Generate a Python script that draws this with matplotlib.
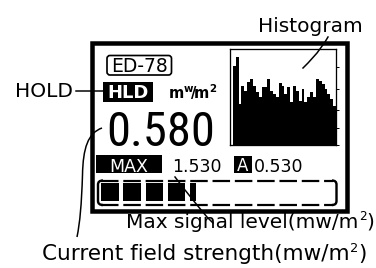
import numpy as np
import matplotlib
matplotlib.use("Agg")
import matplotlib.pyplot as plt
from matplotlib.patches import Rectangle, FancyBboxPatch, PathPatch
from matplotlib.path import Path
from matplotlib import font_manager as fm

plt.rcParams["lines.scale_dashes"] = False
plt.rcParams["font.family"] = ["DejaVu Sans"]

# ---------------- data ----------------
hist_levels = [79, 88, 41, 59, 54, 63, 66, 59, 53, 48, 58, 58, 66, 54, 51, 48,
               62, 59, 51, 58, 43, 59, 54, 44, 56, 43, 48, 53, 48, 66, 64, 61,
               56, 51, 46, 39]
hist_ticks = [0, 17, 35, 56, 78]
gauge_level = 4.35          # filled cells of the bar gauge
gauge_cells = 10.4          # cells across the gauge
reading = "0.580"
max_reading = "1.530"
avg_reading = "0.530"
model_label = "ED-78"
hold_label = "HLD"
max_label = "MAX"
avg_label = "A"
unit_label = r"$\mathregular{m^{w}\!/\!m^{2}}$"
ann_histogram = "Histogram"
ann_hold = "HOLD"
ann_max = ("Max signal level(mw/m", "2", ")")
ann_current = ("Current field strength(mw/m", "2", ")")

PX = 0.72  # points per pixel at dpi 100


def pick(names):
    for n in names:
        try:
            fm.findfont(fm.FontProperties(family=n), fallback_to_default=False)
            return n
        except Exception:
            pass
    return None


narrow = pick(["Liberation Sans Narrow", "DejaVu Sans Condensed",
               "Roboto Condensed", "Open Sans Condensed"])

fig = plt.figure(figsize=(3.76, 2.68), dpi=100)
fig.patch.set_facecolor("white")
ax = fig.add_axes([0, 0, 1, 1])
ax.set_xlim(0, 376)
ax.set_ylim(268, 0)
ax.axis("off")

# outer thick frame of the display
ax.add_patch(Rectangle((91.7, 42.8), 254.8, 168.2, fill=False, ec="black",
                       lw=4.5 * PX, joinstyle="miter"))

# histogram panel
axh = fig.add_axes([230 / 376, (268 - 145) / 268, 106 / 376, 96 / 268])
axh.patch.set_alpha(0)
n = len(hist_levels)
axh.bar(np.arange(n), hist_levels, width=1.0, align="edge", color="black", lw=0)
axh.set_xlim(-1, n)
axh.set_ylim(0, 96)
for s in axh.spines.values():
    s.set_linewidth(1.3 * PX)
axh.set_xticks([])
axh.yaxis.tick_right()
axh.set_yticks(hist_ticks)
axh.tick_params(axis="y", direction="out", length=3 * PX, width=1 * PX,
                labelright=False, labelleft=False)

# model label box
ax.add_patch(FancyBboxPatch((107, 55.5), 64.5, 19.5,
                            boxstyle="round,pad=0,rounding_size=3",
                            fill=False, ec="black", lw=1.7 * PX))
ax.text(139.5, 72, model_label, ha="center", va="baseline", fontsize=13.5,
        color="black")

# HLD box
ax.add_patch(Rectangle((103, 82), 50, 19.5, color="black", lw=0))
ax.text(128, 98.5, hold_label, ha="center", va="baseline", fontsize=13,
        fontweight="bold", color="white")

# unit
ax.text(168, 99, unit_label, ha="left", va="baseline", fontsize=10.5,
        fontweight="bold", color="black")

# big reading
if narrow:
    ax.text(106, 145.5, reading, ha="left", va="baseline", fontsize=35,
            family=narrow, color="black")
else:
    ax.text(106, 145.5, reading, ha="left", va="baseline", fontsize=29,
            color="black")

# MAX row
ax.add_patch(Rectangle((96, 155), 66, 17.5, color="black", lw=0))
ax.text(129, 171.5, max_label, ha="center", va="baseline", fontsize=12.5,
        color="white")
ax.text(172, 171.5, max_reading, ha="left", va="baseline", fontsize=12.5,
        color="black")
ax.add_patch(Rectangle((234, 155.5), 18, 17, color="black", lw=0))
ax.text(243, 171, avg_label, ha="center", va="baseline", fontsize=12,
        color="white")
ax.text(254, 171.5, avg_reading, ha="left", va="baseline", fontsize=12.5,
        color="black")

# bar gauge
g_left, g_right, g_top, g_bot = 101, 333, 180.5, 205
period = (g_right - g_left) / gauge_cells
cell_w = period * 0.785
n_fill = int(np.ceil(gauge_level))
for i in range(n_fill):
    frac = min(1.0, gauge_level - i)
    ax.add_patch(Rectangle((g_left + i * period, 183), cell_w * frac, 18,
                           color="black", lw=0))
for yy in (g_top, g_bot):
    ax.plot([g_left, g_right], [yy, yy], color="black", lw=2.2 * PX,
            dashes=(cell_w * PX, (period - cell_w) * PX), solid_capstyle="butt",
            dash_capstyle="butt")
lb = Path([(103, g_top), (98, g_top), (98, g_top + 4), (98, g_bot - 4),
           (98, g_bot), (103, g_bot)],
          [Path.MOVETO, Path.CURVE3, Path.CURVE3, Path.LINETO, Path.CURVE3,
           Path.CURVE3])
ax.add_patch(PathPatch(lb, fill=False, lw=2.4 * PX, ec="black"))
rb = Path([(332, g_top), (336.5, g_top), (336.5, g_top + 4), (336.5, g_bot - 4),
           (336.5, g_bot), (332, g_bot)],
          [Path.MOVETO, Path.CURVE3, Path.CURVE3, Path.LINETO, Path.CURVE3,
           Path.CURVE3])
ax.add_patch(PathPatch(rb, fill=False, lw=2.4 * PX, ec="black"))

# leader lines
lw_lead = 1.5 * PX
ax.plot([76, 103], [91, 91], color="black", lw=lw_lead)
ax.plot([328, 325, 317, 308, 303], [37, 42, 53, 63, 68], color="black",
        lw=lw_lead)
ax.plot([175, 185, 197, 207, 213], [177, 190, 205, 217, 223], color="black",
        lw=lw_lead)
cur = Path([(102, 128), (88, 133), (83, 148), (82.5, 175),
            (81.5, 205), (80, 222), (77, 237)],
           [Path.MOVETO, Path.CURVE4, Path.CURVE4, Path.CURVE4,
            Path.CURVE4, Path.CURVE4, Path.CURVE4])
ax.add_patch(PathPatch(cur, fill=False, lw=lw_lead, ec="black"))

# annotation texts
ax.text(258, 32, ann_histogram, ha="left", va="baseline", fontsize=14.5,
        color="black")
ax.text(15, 97, ann_hold, ha="left", va="baseline", fontsize=14.5,
        color="black")

renderer = fig.canvas.get_renderer()
inv = ax.transData.inverted()


def right_edge(t):
    bb = t.get_window_extent(renderer)
    return inv.transform((bb.x1, bb.y0))[0]


def sup_text(x, y, parts, size):
    pre, sup, post = parts
    t = ax.text(x, y, pre, ha="left", va="baseline", fontsize=size,
                color="black")
    xr = right_edge(t)
    t2 = ax.text(xr + 0.3, y - 7.5, sup, ha="left", va="baseline",
                 fontsize=size * 0.6, color="black")
    xr2 = right_edge(t2)
    ax.text(xr2 + 0.3, y, post, ha="left", va="baseline", fontsize=size,
            color="black")


sup_text(126, 228, ann_max, 14.5)
sup_text(42, 260, ann_current, 15.5)

fig.savefig("out.png", dpi=100, facecolor="white")
